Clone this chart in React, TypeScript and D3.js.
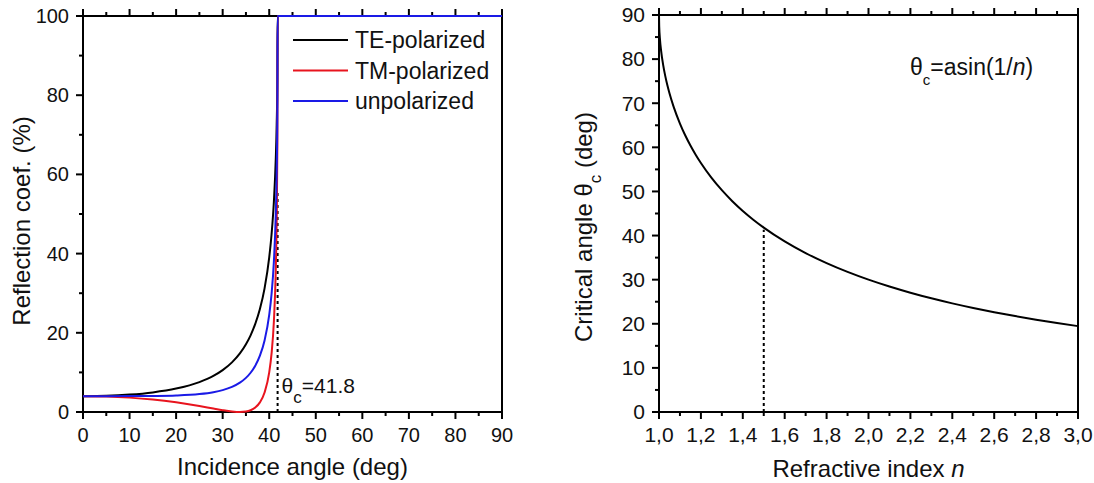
import { useEffect, useRef } from "react";
import * as d3 from "d3";

const FONT = "'Liberation Sans', Arial, Helvetica, sans-serif";

// left panel: reflection at a glass -> air interface (%), vs incidence angle (deg)
const angles = [0, 5, 10, 15, 20, 25, 28, 30, 32, 33.7, 35, 36, 37, 38, 39, 40, 40.5, 41, 41.4, 41.6, 41.75, 41.8, 50, 60, 70, 80, 90];
const teValues = [4.0, 4.09, 4.39, 4.95, 5.91, 7.55, 9.12, 10.58, 12.54, 14.79, 17.11, 19.37, 22.24, 26.0, 31.22, 39.05, 44.83, 53.1, 63.66, 72.38, 84.05, 100, 100, 100, 100, 100, 100];
const tmValues = [4.0, 3.91, 3.63, 3.15, 2.44, 1.51, 0.87, 0.46, 0.13, 0, 0.12, 0.45, 1.13, 2.43, 4.92, 10.01, 14.72, 22.85, 35.55, 48.01, 67.57, 100, 100, 100, 100, 100, 100];
const unpolValues = [4.0, 4.0, 4.01, 4.05, 4.17, 4.53, 5.0, 5.52, 6.33, 7.4, 8.61, 9.91, 11.68, 14.22, 18.07, 24.53, 29.77, 37.97, 49.6, 60.2, 75.8, 100, 100, 100, 100, 100, 100];
const seriesNames = ["TE-polarized", "TM-polarized", "unpolarized"];
const seriesColors = ["#000000", "#e8141e", "#1a1ae6"];
const criticalAngle = 41.8;
const criticalMarkTop = 56;

// right panel: critical angle (deg) vs refractive index
const nValues = [1.0, 1.001, 1.005, 1.01, 1.02, 1.03, 1.04, 1.05, 1.07, 1.1, 1.125, 1.15, 1.175, 1.2, 1.25, 1.3, 1.35, 1.4, 1.45, 1.5, 1.6, 1.7, 1.8, 1.9, 2.0, 2.1, 2.2, 2.3, 2.4, 2.5, 2.6, 2.7, 2.8, 2.9, 3.0];
const thetaC = [90, 87.44, 84.28, 81.93, 78.64, 76.14, 74.06, 72.25, 69.16, 65.38, 62.73, 60.41, 58.33, 56.44, 53.13, 50.28, 47.79, 45.58, 43.6, 41.81, 38.68, 36.03, 33.75, 31.76, 30.0, 28.44, 27.04, 25.77, 24.62, 23.58, 22.62, 21.74, 20.92, 20.17, 19.47];
const glassIndex = 1.5;
const glassAngle = 41.3;

const leftXMajor = [0, 10, 20, 30, 40, 50, 60, 70, 80, 90];
const leftXMinor = [5, 15, 25, 35, 45, 55, 65, 75, 85];
const leftYMajor = [0, 20, 40, 60, 80, 100];
const leftYMinor = [10, 30, 50, 70, 90];
const rightXMajor = [1.0, 1.2, 1.4, 1.6, 1.8, 2.0, 2.2, 2.4, 2.6, 2.8, 3.0];
const rightXMinor = [1.1, 1.3, 1.5, 1.7, 1.9, 2.1, 2.3, 2.5, 2.7, 2.9];
const rightYMajor = [0, 10, 20, 30, 40, 50, 60, 70, 80, 90];
const rightYMinor = [5, 15, 25, 35, 45, 55, 65, 75, 85];

const commaLocale = d3.formatLocale({ decimal: ",", thousands: ".", grouping: [3], currency: ["", ""] });

// frame + outward ticks (bottom, top, left) + labels on bottom/left
function drawFrame(g, x, y, o) {
    const [x0, x1] = x.range();
    const [y0, y1] = y.range();
    const tickW = 2;

    g.append("rect")
        .attr("x", x0).attr("y", y1)
        .attr("width", x1 - x0).attr("height", y0 - y1)
        .attr("fill", "none").attr("stroke", "#000").attr("stroke-width", 2);

    const ticks = [
        ...o.xMajor.map((v) => ({ v, len: 7 })),
        ...o.xMinor.map((v) => ({ v, len: 4 })),
    ];
    ticks.forEach((t) => {
        const px = x(t.v);
        g.append("line").attr("x1", px).attr("x2", px).attr("y1", y0).attr("y2", y0 + t.len)
            .attr("stroke", "#000").attr("stroke-width", tickW);
        g.append("line").attr("x1", px).attr("x2", px).attr("y1", y1).attr("y2", y1 - t.len)
            .attr("stroke", "#000").attr("stroke-width", tickW);
    });
    const yticks = [
        ...o.yMajor.map((v) => ({ v, len: 7 })),
        ...o.yMinor.map((v) => ({ v, len: 4 })),
    ];
    yticks.forEach((t) => {
        const py = y(t.v);
        g.append("line").attr("x1", x0).attr("x2", x0 - t.len).attr("y1", py).attr("y2", py)
            .attr("stroke", "#000").attr("stroke-width", tickW);
    });

    g.selectAll(null).data(o.xMajor).enter().append("text")
        .attr("x", (d) => x(d)).attr("y", y0 + 30)
        .attr("text-anchor", "middle")
        .attr("font-family", FONT).attr("font-size", o.fs).attr("fill", "#111")
        .text((d) => o.xFormat(d));
    g.selectAll(null).data(o.yMajor).enter().append("text")
        .attr("x", x0 - 14).attr("y", (d) => y(d))
        .attr("dy", "0.35em")
        .attr("text-anchor", "end")
        .attr("font-family", FONT).attr("font-size", o.fs).attr("fill", "#111")
        .text((d) => d3.format("d")(d));
}

export default function App() {
    const svgRef = useRef(null);

    useEffect(() => {
        const svg = d3.select(svgRef.current);
        svg.selectAll("*").remove();

        // ---------- left panel ----------
        const xL = d3.scaleLinear().domain([0, 90]).range([83, 502]);
        const yL = d3.scaleLinear().domain([0, 100]).range([412, 16]);
        const left = svg.append("g");

        drawFrame(left, xL, yL, {
            xMajor: leftXMajor, xMinor: leftXMinor, yMajor: leftYMajor, yMinor: leftYMinor,
            xFormat: d3.format("d"), fs: 20,
        });

        left.append("line")
            .attr("x1", xL(criticalAngle)).attr("x2", xL(criticalAngle))
            .attr("y1", yL(0)).attr("y2", yL(criticalMarkTop))
            .attr("stroke", "#000").attr("stroke-width", 2).attr("stroke-dasharray", "3,3");

        const allSeries = [teValues, tmValues, unpolValues];
        allSeries.forEach((vals, i) => {
            const line = d3.line().x((d) => xL(d[0])).y((d) => yL(d[1])).curve(d3.curveMonotoneX);
            left.append("path")
                .datum(angles.map((a, k) => [a, vals[k]]))
                .attr("d", line)
                .attr("fill", "none")
                .attr("stroke", seriesColors[i])
                .attr("stroke-width", 2);
        });

        // legend
        seriesNames.forEach((name, i) => {
            const ly = 40 + i * 30.5;
            left.append("line")
                .attr("x1", 293).attr("x2", 348).attr("y1", ly).attr("y2", ly)
                .attr("stroke", seriesColors[i]).attr("stroke-width", 2);
            left.append("text")
                .attr("x", 355).attr("y", ly + 8)
                .attr("font-family", FONT).attr("font-size", 23).attr("fill", "#111")
                .text(name);
        });

        // theta_c annotation
        const ann = left.append("text")
            .attr("x", xL(criticalAngle) + 4).attr("y", 393)
            .attr("font-family", FONT).attr("font-size", 21).attr("fill", "#111");
        ann.append("tspan").text("θ");
        ann.append("tspan").attr("dy", 10).attr("font-size", 17).text("c");
        ann.append("tspan").attr("dy", -10).text("=41.8");

        left.append("text")
            .attr("x", 292.5).attr("y", 475)
            .attr("text-anchor", "middle")
            .attr("font-family", FONT).attr("font-size", 24).attr("fill", "#111")
            .text("Incidence angle (deg)");
        left.append("text")
            .attr("transform", "translate(30,221) rotate(-90)")
            .attr("text-anchor", "middle")
            .attr("font-family", FONT).attr("font-size", 24).attr("fill", "#111")
            .text("Reflection coef. (%)");

        // ---------- right panel ----------
        const xR = d3.scaleLinear().domain([1, 3]).range([659, 1078]);
        const yR = d3.scaleLinear().domain([0, 90]).range([412, 15]);
        const right = svg.append("g");

        drawFrame(right, xR, yR, {
            xMajor: rightXMajor, xMinor: rightXMinor, yMajor: rightYMajor, yMinor: rightYMinor,
            xFormat: commaLocale.format(".1f"), fs: 21,
        });

        right.append("line")
            .attr("x1", xR(glassIndex)).attr("x2", xR(glassIndex))
            .attr("y1", yR(0)).attr("y2", yR(glassAngle))
            .attr("stroke", "#000").attr("stroke-width", 2).attr("stroke-dasharray", "3,3");

        right.append("path")
            .datum(nValues.map((n, k) => [n, thetaC[k]]))
            .attr("d", d3.line().x((d) => xR(d[0])).y((d) => yR(d[1])).curve(d3.curveMonotoneX))
            .attr("fill", "none").attr("stroke", "#000").attr("stroke-width", 2);

        const formula = right.append("text")
            .attr("x", 910).attr("y", 75)
            .attr("font-family", FONT).attr("font-size", 23).attr("fill", "#111");
        formula.append("tspan").text("θ");
        formula.append("tspan").attr("dy", 10).attr("font-size", 15).text("c");
        formula.append("tspan").attr("dy", -10).text("=asin(1/");
        formula.append("tspan").attr("font-style", "italic").text("n");
        formula.append("tspan").text(")");

        const xt = right.append("text")
            .attr("x", 868.5).attr("y", 477)
            .attr("text-anchor", "middle")
            .attr("font-family", FONT).attr("font-size", 24).attr("fill", "#111");
        xt.append("tspan").text("Refractive index ");
        xt.append("tspan").attr("font-style", "italic").text("n");

        const yt = right.append("text")
            .attr("transform", "translate(592,227) rotate(-90)")
            .attr("text-anchor", "middle")
            .attr("font-family", FONT).attr("font-size", 24).attr("fill", "#111");
        yt.append("tspan").text("Critical angle θ");
        yt.append("tspan").attr("dy", 9).attr("font-size", 17).text("c");
        yt.append("tspan").attr("dy", -9).text(" (deg)");
    }, []);

    return (
        <svg
            ref={svgRef}
            width={1094}
            height={483}
            style={{ position: "absolute", left: 0, top: 0, background: "#fff", display: "block" }}
        />
    );
}
